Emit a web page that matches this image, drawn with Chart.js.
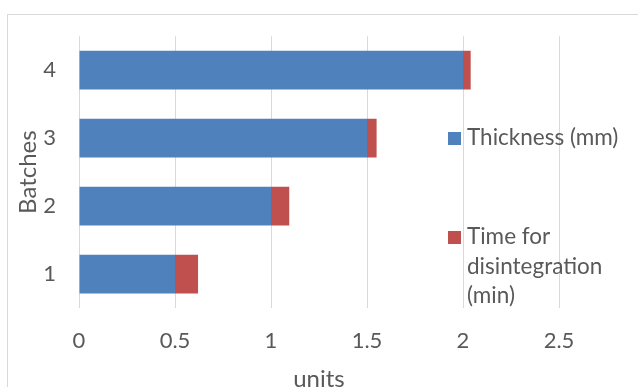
<!DOCTYPE html>
<html>
<head>
<meta charset="utf-8">
<script src="https://cdn.jsdelivr.net/npm/chart.js@4/dist/chart.umd.min.js"></script>
<style>
  html, body { margin: 0; padding: 0; background: #ffffff; }
  #wrap { width: 638px; height: 387px; position: relative; }
</style>
</head>
<body>
<div id="wrap"><canvas id="chart" width="638" height="387"></canvas></div>
<script>
// Batches on the category axis, two stacked measurements per batch
const batches = ['1', '2', '3', '4'];
const thickness = [0.5, 1.0, 1.5, 2.0];               // Thickness (mm)
const disintegrationTime = [0.12, 0.095, 0.05, 0.04]; // Time for disintegration (min)
const seriesNames = ['Thickness (mm)', 'Time for disintegration (min)'];
const xTicks = [0, 0.5, 1, 1.5, 2, 2.5];

const FONT = 'Lato, "Open Sans", sans-serif';
const TEXT = '#595959';
const GRID = '#d9d9d9';

// Outer frame around the chart area
const framePlugin = {
  id: 'frame',
  beforeDraw(chart) {
    const ctx = chart.ctx;
    ctx.save();
    ctx.fillStyle = '#ffffff';
    ctx.fillRect(0, 0, chart.width, chart.height);
    ctx.strokeStyle = GRID;
    ctx.lineWidth = 1;
    ctx.strokeRect(7.5, 14.5, chart.width + 10, chart.height + 10);
    ctx.restore();
  }
};

// Legend on the right, with word wrapping for long labels
const sideLegend = {
  id: 'sideLegend',
  afterDraw(chart) {
    const ctx = chart.ctx;
    ctx.save();
    ctx.font = '22.5px ' + FONT;
    ctx.fillStyle = TEXT;
    ctx.textBaseline = 'alphabetic';
    ctx.textAlign = 'left';
    const boxX = 448, textX = 467, box = 13, lineH = 29.5, maxW = 160;
    const starts = [145, 244];
    chart.data.datasets.forEach((ds, i) => {
      const words = ds.label.split(' ');
      const lines = [];
      let cur = '';
      words.forEach(w => {
        const t = cur ? cur + ' ' + w : w;
        if (ctx.measureText(t).width > maxW && cur) { lines.push(cur); cur = w; }
        else cur = t;
      });
      if (cur) lines.push(cur);
      const base = starts[i];
      ctx.fillStyle = ds.backgroundColor;
      ctx.fillRect(boxX, base - 13, box, box);
      ctx.fillStyle = TEXT;
      lines.forEach((ln, k) => ctx.fillText(ln, textX, base + k * lineH));
    });
    ctx.restore();
  }
};

new Chart(document.getElementById('chart'), {
  type: 'bar',
  data: {
    labels: batches,
    datasets: [
      { label: seriesNames[0], data: thickness, backgroundColor: '#4f81bd', borderWidth: 0 },
      { label: seriesNames[1], data: disintegrationTime, backgroundColor: '#c0504d', borderWidth: 0 }
    ]
  },
  options: {
    indexAxis: 'y',
    responsive: false,
    animation: false,
    devicePixelRatio: 1,
    layout: { padding: { left: 0, top: 32, right: 79, bottom: 0 } },
    datasets: { bar: { barPercentage: 0.57, categoryPercentage: 1 } },
    plugins: { legend: { display: false }, tooltip: { enabled: false } },
    scales: {
      x: {
        stacked: true,
        min: 0, max: 2.5,
        afterBuildTicks(scale) { scale.ticks = xTicks.map(v => ({ value: v })); },
        afterFit(scale) { scale.height = 79; },
        grid: { color: GRID, lineWidth: 1, drawTicks: false },
        border: { display: false },
        ticks: {
          color: TEXT, font: { family: FONT, size: 22 }, padding: 20,
          callback: v => String(v)
        },
        title: {
          display: true, text: 'units', color: TEXT,
          font: { family: FONT, size: 24, lineHeight: 0.667 }, padding: 0
        }
      },
      y: {
        stacked: true,
        reverse: true,
        afterFit(scale) { scale.width = 79; },
        grid: { display: false, drawTicks: false },
        border: { display: false },
        ticks: { color: TEXT, font: { family: FONT, size: 22 }, padding: 23 },
        title: {
          display: true, text: 'Batches', color: TEXT,
          font: { family: FONT, size: 24, lineHeight: 1.2 }, padding: { top: 14, bottom: 0 }
        }
      }
    }
  },
  plugins: [framePlugin, sideLegend]
});
</script>
</body>
</html>
